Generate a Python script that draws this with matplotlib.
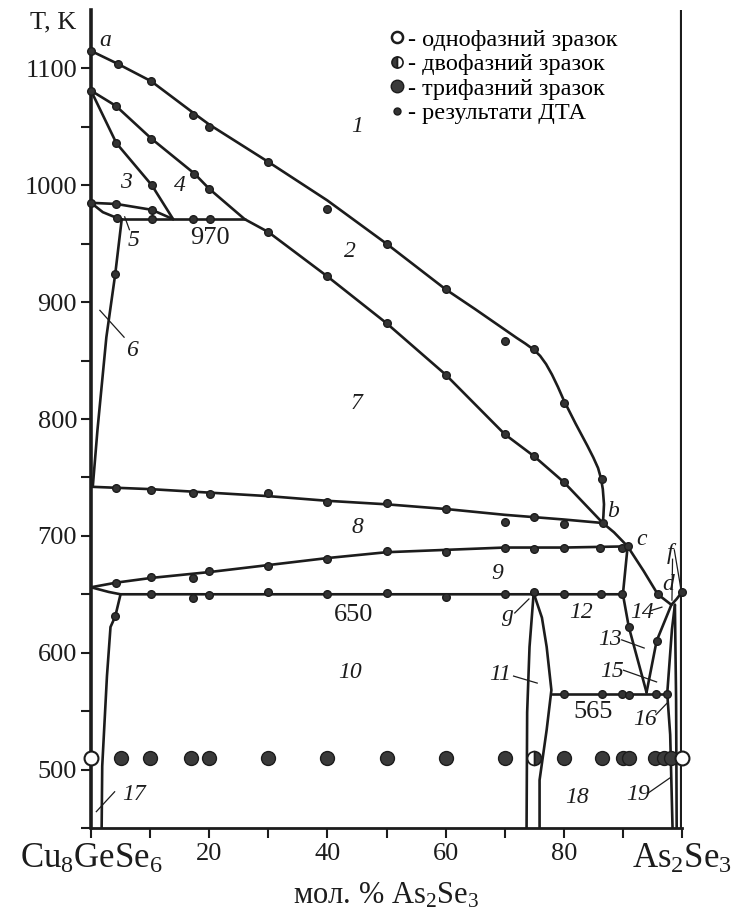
import numpy as np
import matplotlib
matplotlib.use("Agg")
import matplotlib.pyplot as plt
from matplotlib.lines import Line2D

plt.rcParams['font.family'] = ['Liberation Serif', 'DejaVu Serif']
plt.rcParams['mathtext.fontset'] = 'custom'
plt.rcParams['mathtext.rm'] = 'Liberation Serif'
plt.rcParams['mathtext.it'] = 'Liberation Serif:italic'

INK = '#1c1c1c'

# ---- phase boundaries (x = mol. % As2Se3, T in K) ----
liq_1_x = [0, 4.5, 10.2, 17.3, 20, 30, 40, 50, 60, 65, 70, 72, 73.5, 75, 76, 77, 78, 79, 80, 81, 82, 83, 84, 85,
           85.8, 86.3, 86.6, 86.8, 86.7, 86.6, 88.5, 90.8, 93.5, 95.9, 98.2]
liq_1_t = [1115, 1104, 1089, 1062, 1052, 1020, 987, 950, 911, 894, 876.5, 869.5, 864.5, 859, 854, 847, 838, 827.5,
           816, 806, 796, 786.5, 777, 767, 758, 749, 740, 727, 717, 711, 703, 691, 670, 650, 641]
liq_right_x = [98.2, 99.1, 100]
liq_right_t = [641, 646, 652]

liq_2_x = [0, 4.2, 10.2, 17.5, 20, 26.0, 30, 40, 50, 60, 70, 75, 80, 86.6]
liq_2_t = [1081, 1068, 1040, 1010, 997, 971, 960, 922, 882, 838, 787, 768, 746, 711]

line_3_x = [0, 4.3, 10.3, 13.9]
line_3_t = [1081, 1036, 1000, 971]

line_985_x = [0, 4.3, 10.3, 13.9]
line_985_t = [985, 984, 979, 971]

line_5_x = [0, 2.0, 4.4, 5.2]
line_5_t = [985, 977, 972, 971]

line_970_x = [4.4, 26.0]
line_970_t = [971, 971]

line_6_x = [5.2, 4.1, 2.6, 1.1, 0.3]
line_6_t = [971, 924, 870, 791, 742]

line_8_x = [0, 10, 20, 30, 40, 50, 60, 70, 80, 86.6]
line_8_t = [742, 740, 737, 734, 730, 727, 723, 718, 714, 711]

line_9_x = [0, 4.3, 10.2, 20, 30, 40, 50, 60, 70, 80, 90.8]
line_9_t = [656, 660, 664, 669, 675, 681, 686, 688, 690, 690, 691]

line_650_x = [0, 3.0, 5.0, 89.9]
line_650_t = [656, 652, 650, 650]

line_17_x = [5.0, 4.1, 3.3, 2.7, 1.9, 1.8]
line_17_t = [650, 631, 622, 580, 503, 450]

line_13_x = [90.8, 90.0, 91.0, 94.0]
line_13_t = [691, 650, 622, 566]

line_14_x = [98.2, 95.7, 94.0]
line_14_t = [641, 610, 566]

line_565_x = [78.0, 97.5]
line_565_t = [565, 565]

line_16_x = [97.5, 98.3, 98.8]
line_16_t = [565, 620, 641]

line_16b_x = [97.5, 98.0, 98.4]
line_16b_t = [565, 530, 450]

line_19_x = [98.8, 99.0, 99.1]
line_19_t = [641, 560, 450]

lens_l_x = [74.9, 74.2, 73.8, 73.7]
lens_l_t = [651, 605, 549, 450]
lens_r_x = [74.9, 76.3, 77.1, 77.9, 77.1, 75.9, 75.9]
lens_r_t = [651, 630, 605, 568, 534, 491, 450]

# ---- DTA results ----
dta_x = [0, 4.5, 10.2, 17.3, 20, 30, 40, 50, 60, 70, 75, 80, 86.4,
         0, 4.2, 10.2, 17.5, 20, 30, 40, 50, 60, 70, 75, 80, 86.6,
         4.3, 10.3, 0, 4.3, 10.3, 4.4, 10.3, 17.2, 20.1, 4.1,
         4.3, 10.1, 17.3, 20.2, 30, 40, 50, 60, 70, 75, 80,
         4.3, 10.2, 17.3, 20, 30, 40, 50, 60, 70, 75, 80, 86.2, 89.9, 90.8,
         10.2, 17.3, 20, 30, 40, 50, 60, 70, 75, 80, 86.3, 89.8,
         4.1, 91.0, 80, 86.4, 89.8, 91.1, 95.6, 97.5,
         95.9, 95.7, 100]
dta_t = [1115, 1104, 1089, 1060, 1050, 1020, 980, 950, 911, 867, 860, 814, 749,
         1081, 1068, 1040, 1010, 997, 960, 922, 882, 838, 787, 768, 746, 711,
         1036, 1000, 985, 984, 979, 972, 971, 971, 971, 924,
         741, 739, 737, 736, 737, 729, 728, 723, 712, 716, 710,
         660, 665, 664, 670, 674, 680, 687, 686, 690, 689, 690, 690, 690, 691,
         650, 647, 649, 652, 650, 651, 648, 650, 652, 650, 650, 650,
         631, 622, 565, 565, 565, 564, 565, 565,
         650, 610, 652]

# ---- annealed samples at 510 K ----
one_phase_x = [0, 100]
two_phase_x = [75]
three_phase_x = [5, 10, 17, 20, 30, 40, 50, 60, 70, 80, 86.5, 90, 91, 95.5, 97, 98.2]
sample_t = 510

fig = plt.figure(figsize=(7.34, 9.18), dpi=100)
ax = fig.add_axes([91 / 734, 1 - 828 / 918, 591 / 734, 818 / 918])
ax.set_xlim(0, 100)
ax.set_ylim(450, 1150)

curves = [(liq_1_x, liq_1_t), (liq_right_x, liq_right_t), (liq_2_x, liq_2_t),
          (line_3_x, line_3_t), (line_985_x, line_985_t), (line_5_x, line_5_t),
          (line_970_x, line_970_t), (line_6_x, line_6_t), (line_8_x, line_8_t),
          (line_9_x, line_9_t), (line_650_x, line_650_t), (line_17_x, line_17_t),
          (line_13_x, line_13_t), (line_14_x, line_14_t), (line_565_x, line_565_t),
          (line_16_x, line_16_t), (line_16b_x, line_16b_t), (line_19_x, line_19_t),
          (lens_l_x, lens_l_t), (lens_r_x, lens_r_t)]
for cx, ct in curves:
    ax.plot(cx, ct, color=INK, lw=1.9, solid_capstyle='round', solid_joinstyle='round', zorder=2)

ax.axvline(100, color=INK, lw=3.0, zorder=2)

ax.plot(dta_x, dta_t, 'o', ms=5.5, color='#333333', mec=INK, zorder=3, clip_on=False)

ax.plot(three_phase_x, [sample_t] * len(three_phase_x), 'o', ms=10, color='#3a3a3a',
        mec=INK, mew=1.0, zorder=4)
ax.plot(two_phase_x, [sample_t] * len(two_phase_x), 'o', ms=10, fillstyle='right',
        markerfacecolor='#3a3a3a', markerfacecoloralt='white', mec=INK, mew=1.2, zorder=4)
ax.plot(one_phase_x, [sample_t] * len(one_phase_x), 'o', ms=10, mfc='white', mec=INK,
        mew=1.5, zorder=5, clip_on=False)

# region numbers and point letters
it = dict(style='italic', fontsize=17, color=INK, ha='center', va='center')
labels = [('1', 45, 1050), ('2', 43.8, 943), ('3', 6, 1002), ('4', 15, 1000),
          ('5', 7.2, 953), ('6', 7, 859), ('7', 45, 813), ('8', 45, 707),
          ('9', 68.8, 668), ('10', 43.8, 583), ('11', 69.2, 581), ('12', 83, 634),
          ('13', 87.8, 611), ('14', 93.2, 634), ('15', 88.1, 584), ('16', 93.7, 543),
          ('17', 7.3, 479), ('18', 82.2, 476), ('19', 92.5, 479),
          ('a', 2.4, 1124), ('b', 88.3, 721), ('c', 93.2, 697), ('d', 97.6, 658),
          ('f', 97.9, 685), ('g', 70.5, 632)]
for s, lx, lt in labels:
    ax.text(lx, lt, s, **it)

for s, lx, lt in [('970', 20.2, 955), ('650', 44.4, 632), ('565', 84.9, 549)]:
    ax.text(lx, lt, s, fontsize=19, color=INK, ha='center', va='center')

leaders = [((6.5, 5.7), (962, 973)), ((5.6, 1.5), (870, 893)), ((4.0, 0.9), (481, 464)),
           ((71.7, 74.1), (634, 646)), ((71.5, 75.5), (580, 574)), ((89.8, 93.6), (611, 604)),
           ((94.7, 96.6), (636, 639)), ((90.1, 95.7), (585, 575)), ((95.6, 97.5), (547, 557)),
           ((94.3, 98.0), (480, 493)), ((98.4, 98.3), (680, 645)), ((98.7, 99.8), (688, 655))]
for lx, lt in leaders:
    ax.plot(lx, lt, color=INK, lw=0.9, zorder=2)

# axes
for side in ['top', 'right']:
    ax.spines[side].set_visible(False)
ax.spines['left'].set_linewidth(2.6)
ax.spines['bottom'].set_linewidth(2.0)
ax.spines['left'].set_color(INK)
ax.spines['bottom'].set_color(INK)

ax.set_yticks(np.arange(500, 1101, 100))
ax.set_yticks(np.arange(450, 1101, 50), minor=True)
ax.tick_params(axis='y', which='both', direction='out', length=7, width=1.5, colors=INK,
               labelsize=19, pad=3)
ax.set_xticks(np.arange(0, 101, 10))
ax.set_xticklabels(['Cu$_8$GeSe$_6$', '', '20', '', '40', '', '60', '', '80', '', 'As$_2$Se$_3$'])
ax.tick_params(axis='x', direction='out', length=7, width=1.5, colors=INK, labelsize=19, pad=4)
ticklabels = ax.get_xticklabels()
ticklabels[0].set_fontsize(25)
ticklabels[-1].set_fontsize(25)

ax.set_xlabel('мол. % As$_2$Se$_3$', fontsize=22, color=INK, labelpad=3)
ax.text(-2.5, 1139, 'T, K', fontsize=19, color=INK, ha='right', va='center')

handles = [Line2D([], [], ls='none', marker='o', ms=8, mfc='white', mec=INK, mew=1.8),
           Line2D([], [], ls='none', marker='o', ms=8, fillstyle='left', markerfacecolor='#3a3a3a',
                  markerfacecoloralt='white', mec=INK, mew=1.2),
           Line2D([], [], ls='none', marker='o', ms=9, color='#3a3a3a', mec=INK),
           Line2D([], [], ls='none', marker='o', ms=5, color='#333333', mec=INK)]
names = ['- однофазний зразок', '- двофазний зразок', '- трифазний зразок', '- результати ДТА']
ax.legend(handles, names, loc='upper left', bbox_to_anchor=(0.505, 0.977), frameon=False,
          fontsize=17.5, handlelength=0.6, handletextpad=0.15, labelspacing=0.1,
          borderpad=0, borderaxespad=0)

fig.savefig('out.png', dpi=100)
